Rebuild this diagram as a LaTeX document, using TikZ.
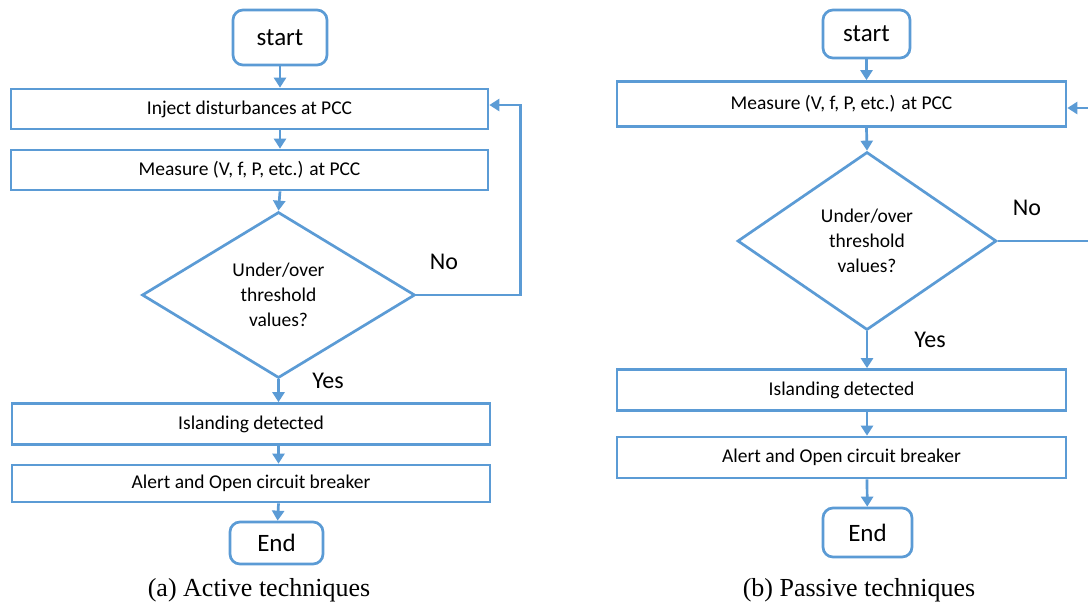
\documentclass[tikz,border=0pt]{standalone}
\usepackage{fontspec}
\setmainfont{Carlito}
\newfontfamily\capfont{Liberation Serif}
\usetikzlibrary{shapes.geometric,arrows.meta}
\definecolor{flowblue}{HTML}{5B9BD5}
\tikzset{
  box/.style={draw=flowblue,line width=2.7pt,fill=white,minimum width=#1,minimum height=40pt,inner sep=0pt,font=\fontsize{19.5}{23}\selectfont},
  term/.style={draw=flowblue,line width=2.7pt,rounded corners=10pt,minimum width=90pt,minimum height=48pt,inner sep=0pt,font=\fontsize{25}{30}\selectfont},
  decision/.style={diamond,draw=flowblue,line width=2.7pt,inner sep=0pt,align=center,font=\fontsize{19.5}{25}\selectfont},
  flow/.style={draw=flowblue,line width=2.7pt,-{Triangle[width=12pt,length=10pt]}},
  lbl/.style={font=\fontsize{24}{28}\selectfont},
  caption/.style={font=\capfont\fontsize{26}{30}\selectfont}
}
\begin{document}
\begin{tikzpicture}[x=1pt,y=-1pt]
  \clip (0,0) rectangle (1088,603);
  \fill[white] (0,0) rectangle (1088,603);
  % (a) active
  \draw
    (280,37.5) node[term,minimum width=94pt,minimum height=55pt] (start){start}
    (249.5,109) node[box=477pt] (inject){Inject disturbances at PCC}
    (249.5,170) node[box=477pt] (meas){Measure (V, f, P, etc.) at PCC}
    (278.5,295) node[decision,minimum width=273pt,minimum height=166pt] (dec){Under/over\\threshold\\values?}
    (251,424) node[box=478pt,minimum height=41pt] (island){Islanding detected}
    (251,483.5) node[box=478pt,minimum height=37pt] (alert){Alert and Open circuit breaker}
    (276.5,543) node[term,minimum width=93pt,minimum height=42pt] (end){End}
    (444,262) node[lbl] (no){No}
    (328,381) node[lbl] (yes){Yes}
    (259,590) node[caption] (capa){(a) Active techniques};
  \begin{scope}[flow]
    \draw (start) -- (start |- inject.north);
    \draw (start |- inject.south) -- (start |- meas.north);
    \draw (start |- meas.south) -- (dec.north);
    \draw (dec.south) -- (dec |- island.north);
    \draw (dec |- island.south) -- (dec |- alert.north);
    \draw (dec |- alert.south) -- (end);
    \draw (dec.east) -- ++(104,0) |- ([yshift=4pt]inject.east);
  \end{scope}
  % (b) passive
  \draw
    (866.5,34) node[term,minimum width=87pt,minimum height=48pt] (start2){start}
    (841.5,104) node[box=449pt,minimum height=45pt] (meas2){Measure (V, f, P, etc.) at PCC}
    (867,241) node[decision,minimum width=259pt,minimum height=178pt] (dec2){Under/over\\threshold\\values?}
    (841.5,390) node[box=449pt,minimum height=41pt] (island2){Islanding detected}
    (841.5,457.5) node[box=449pt,minimum height=41pt] (alert2){Alert and Open circuit breaker}
    (867.5,532.5) node[term,minimum width=89pt,minimum height=49pt] (end2){End}
    (1027,208) node[lbl] (no2){No}
    (930,340) node[lbl] (yes2){Yes}
    (859,590) node[caption] (capb){(b) Passive techniques};
  \begin{scope}[flow]
    \draw (start2) -- (start2 |- meas2.north);
    \draw (start2 |- meas2.south) -- (dec2.north);
    \draw (dec2.south) -- (dec2 |- island2.north);
    \draw (dec2 |- island2.south) -- (dec2 |- alert2.north);
    \draw (dec2 |- alert2.south) -- (end2);
    \draw (dec2.east) -- ++(104,0) |- ([yshift=-4pt]meas2.east);
  \end{scope}
\end{tikzpicture}
\end{document}
